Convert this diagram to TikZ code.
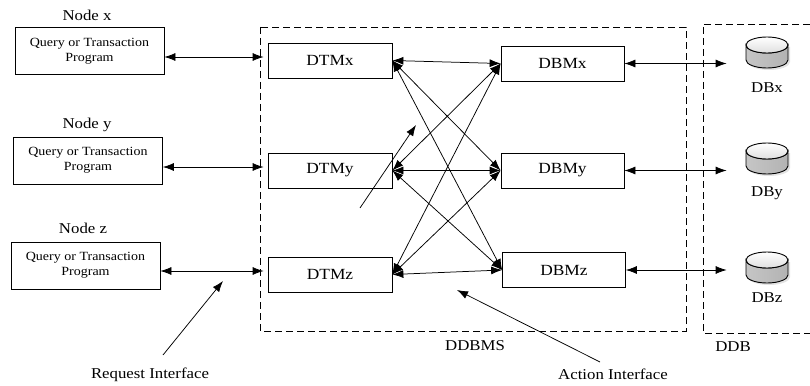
\documentclass[tikz,border=0pt]{standalone}
\usepackage{fontspec}
\setmainfont{Liberation Serif}[FakeStretch=1.12]
\usetikzlibrary{arrows.meta}
\begin{document}
\begin{tikzpicture}[x=1pt,y=-1pt,
  line width=0.75pt,
  box/.style={draw, inner sep=0pt, minimum width=124pt, minimum height=35pt, font=\fontsize{15.5}{17}\selectfont},
  qbox/.style={draw, inner sep=0pt, minimum width=149pt, minimum height=47pt, align=center, font=\fontsize{12.5}{15}\selectfont},
  lbl/.style={inner sep=0pt, font=\fontsize{15}{17}\selectfont},
  arr/.style={-{Latex[length=11pt,width=8pt]}},
  barr/.style={{Latex[length=11pt,width=8pt]}-{Latex[length=11pt,width=8pt]}},
  hold/.style={inner sep=0pt, minimum width=42pt, minimum height=31pt},
  frame/.style={dash pattern=on 7pt off 4pt, line width=0.75pt}
]
\useasboundingbox (0,0) rectangle (810,385);
\fill[white] (0,0) rectangle (810,385);

% dashed frames
\draw[frame] (260,27) rectangle (686,331);
\draw[frame] (810,24) -- (703,24) -- (703,333) -- (810,333);

% left nodes
\node[lbl] (nx) at (87,15) {Node x};
\node[lbl] (ny) at (87,125) {Node y};
\node[lbl] (nz) at (83,228) {Node z};
\node[qbox] (qx) at (89.5,51) {Query or Transaction\\Program};
\node[qbox] (qy) at (88,160.5) {Query or Transaction\\Program};
\node[qbox] (qz) at (85.5,265.5) {Query or Transaction\\Program};

% DTM
\node[box] (tx) at (330,60.5) {DTMx};
\node[box] (ty) at (330,170.5) {DTMy};
\node[box] (tz) at (330,274.5) {DTMz};
% DBM
\node[box, minimum width=123pt] (mx) at (562.5,63.5) {DBMx};
\node[box, minimum width=123pt] (my) at (562.5,170.5) {DBMy};
\node[box, minimum width=123pt] (mz) at (564,270) {DBMz};

% DBs (cylinders)
\foreach \nm/\yt in {dx/45, dy/151, dz/260}{
  \node[hold] (\nm) at (767,\yt+7.5) {};
  \fill[gray!22] (748,\yt+2) -- (748,\yt+17) arc[start angle=180,end angle=0,x radius=21,y radius=8] -- (790,\yt+2) -- cycle;
  \draw[line width=0.9pt, left color=gray!45, middle color=gray!12, right color=gray!60]
    (746,\yt) -- (746,\yt+15) arc[start angle=180,end angle=0,x radius=21,y radius=8]
    -- (788,\yt) arc[start angle=0,end angle=180,x radius=21,y radius=8] -- cycle;
  \draw[line width=0.9pt, top color=white, bottom color=gray!25] (767,\yt) ellipse[x radius=21,y radius=8];
}
\node[lbl] (ldx) at (767,88) {DBx};
\node[lbl] (ldy) at (767,193) {DBy};
\node[lbl] (ldz) at (767,298) {DBz};

% QT <-> DTM
\coordinate (ax) at (0,57);
\coordinate (ay) at (0,167);
\coordinate (az) at (0,271);
\draw[barr] (qx.east |- ax) -- ([xshift=-4pt]tx.west |- ax);
\draw[barr] (qy.east |- ay) -- ([xshift=-4pt]ty.west |- ay);
\draw[barr] (qz.east |- az) -- ([xshift=-4pt]tz.west |- az);

% mesh
\foreach \a in {tx,ty,tz}{
  \foreach \b in {mx,my,mz}{
    \draw[barr] (\a.east) -- (\b.west);
  }
}

% DBM <-> DB
\draw[barr] (mx.east) -- ([xshift=-19pt]dx.west |- mx.east);
\draw[barr] (my.east) -- ([xshift=-19pt]dy.west |- my.east);
\draw[barr] (mz.east) -- ([xshift=-19pt]dz.west |- mz.east);

% free arrow in the middle
\coordinate (fs) at (360,208);
\coordinate (fe) at (416,125);
\draw[arr] (fs) -- (fe);

% interface labels
\node[lbl] (ri) at (150,375) {Request Interface};
\node[lbl] (ai) at (613,374) {Action Interface};
\node[lbl] (ddbms) at (475,346) {DDBMS};
\node[lbl] (ddb) at (733,347) {DDB};
\coordinate (ris) at (163,355);
\coordinate (rie) at (223,281);
\draw[arr] (ris) -- (rie);
\coordinate (ais) at (600,362);
\coordinate (aie) at (457,290);
\draw[arr] (ais) -- (aie);
\end{tikzpicture}
\end{document}
